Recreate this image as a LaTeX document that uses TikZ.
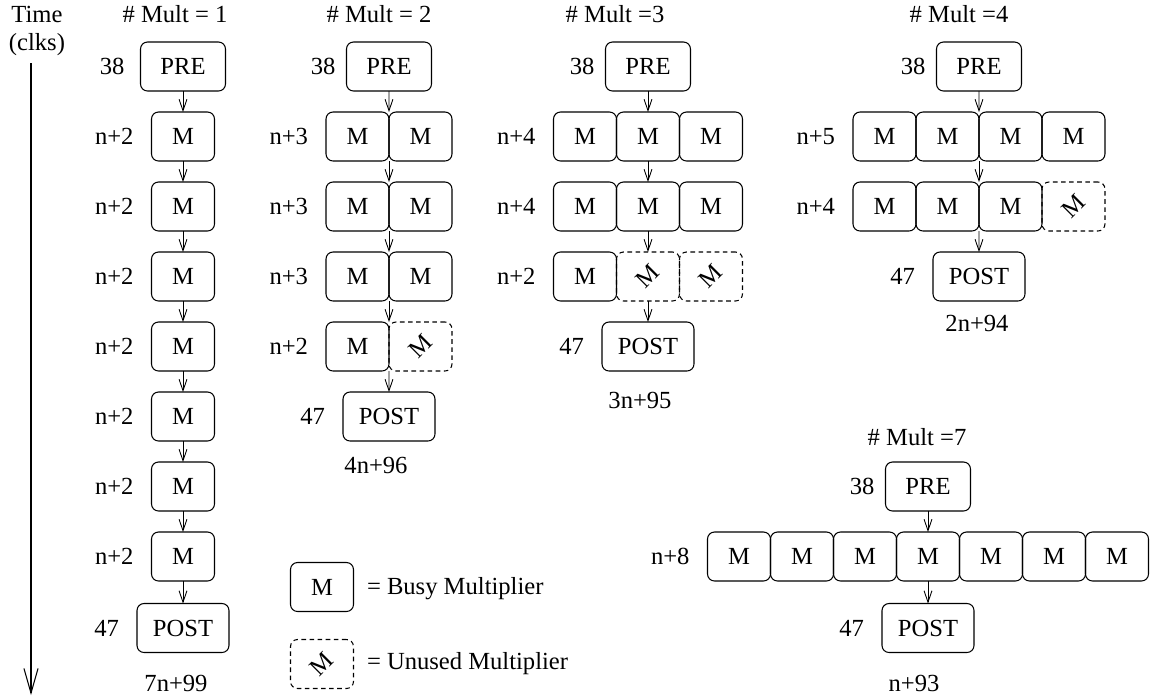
\documentclass[tikz,border=0pt]{standalone}
\usepackage{fontspec}
\setmainfont{Liberation Serif}
\usepackage{graphicx}
\usepackage{tikz}
\usetikzlibrary{arrows.meta, positioning}

\begin{document}
\begin{tikzpicture}[
    x=0.02cm, y=-0.02cm,
    every node/.style={font=\fontsize{14}{16}\selectfont},
    mul/.style={
        rectangle,
        rounded corners=4pt,
        minimum width=1.26cm,
        minimum height=0.98cm,
        inner sep=0pt, outer sep=0pt,
        line width=0.6pt,
        draw=black
    },
    idle/.style={mul, dash pattern=on 2.6pt off 2pt},
    prebox/.style={mul, minimum width=1.7cm},
    postbox/.style={mul, minimum width=1.84cm},
    lab/.style={inner sep=0pt, outer sep=0pt},
    arrow/.style={line width=0.5pt, -{Straight Barb[length=6.5pt,width=4.5pt]}},
    timearrow/.style={line width=0.6pt, -{Straight Barb[length=14pt,width=8pt]}}
]
\useasboundingbox (0,0) rectangle (1157,698);

% time axis
\node (time) at (37,14) {Time};
\node (clks) at (37,45) {(clks)};
\coordinate (t0) at (31,63);
\coordinate (t1) at (31,695);
\draw [timearrow] (t0) -- (t1);

% one multiplier
\node (h1) at (175,14) {\# Mult = 1};
\node (pre1) [prebox] at (183,66.5) {PRE};
\foreach \k in {1,...,7}
    \node (a\k) [mul] at (183,66.5+70*\k) {M};
\node (post1) [postbox] at (183,628) {POST};
\node [lab, left=0.32cm of pre1] {38};
\foreach \k in {1,...,7}
    \node [lab, left=0.36cm of a\k] {n+2};
\node [lab, left=0.36cm of post1] {47};
\node (s1) at (176,683) {7n+99};
\draw [arrow] (pre1) -- (a1);
\foreach \k/\j in {1/2,2/3,3/4,4/5,5/6,6/7}
    \draw [arrow] (a\k) -- (a\j);
\draw [arrow] (a7) -- (post1);

% two multipliers
\node (h2) at (379,14) {\# Mult = 2};
\node (pre2) [prebox] at (389,66.5) {PRE};
\foreach \k in {1,2,3} {
    \node (b\k a) [mul] at (357.5,66.5+70*\k) {M};
    \node (b\k b) [mul, right=0pt of b\k a] {M};
    \node [lab, left=0.36cm of b\k a] {n+3};
}
\node (b4a) [mul] at (357.5,346.5) {M};
\node (b4b) [idle, right=0pt of b4a] {\rotatebox{45}{M}};
\node [lab, left=0.36cm of b4a] {n+2};
\node (post2) [postbox] at (389,416.5) {POST};
\node [lab, left=0.22cm of pre2] {38};
\node [lab, left=0.36cm of post2] {47};
\node (s2) at (376,465) {4n+96};
\draw [arrow] (pre2) -- (b1a.north east);
\draw [arrow] (b1a.south east) -- (b2a.north east);
\draw [arrow] (b2a.south east) -- (b3a.north east);
\draw [arrow] (b3a.south east) -- (b4a.north east);
\draw [arrow] (b4a.south east) -- (post2);

% three multipliers
\node (h3) at (615,14) {\# Mult =3};
\node (pre3) [prebox] at (648,66.5) {PRE};
\foreach \k in {1,2} {
    \node (c\k b) [mul] at (648,66.5+70*\k) {M};
    \node (c\k a) [mul, left=0pt of c\k b] {M};
    \node (c\k c) [mul, right=0pt of c\k b] {M};
    \node [lab, left=0.36cm of c\k a] {n+4};
}
\node (c3b) [idle] at (648,276.5) {\rotatebox{45}{M}};
\node (c3a) [mul, left=0pt of c3b] {M};
\node (c3c) [idle, right=0pt of c3b] {\rotatebox{45}{M}};
\node [lab, left=0.36cm of c3a] {n+2};
\node (post3) [postbox] at (648,346.5) {POST};
\node [lab, left=0.22cm of pre3] {38};
\node [lab, left=0.36cm of post3] {47};
\node (s3) at (640,400) {3n+95};
\draw [arrow] (pre3) -- (c1b);
\draw [arrow] (c1b) -- (c2b);
\draw [arrow] (c2b) -- (c3b);
\draw [arrow] (c3b) -- (post3);

% four multipliers
\node (h4) at (959,14) {\# Mult =4};
\node (pre4) [prebox] at (979,66.5) {PRE};
\node (d1b) [mul] at (947.5,136.5) {M};
\node (d1a) [mul, left=0pt of d1b] {M};
\node (d1c) [mul, right=0pt of d1b] {M};
\node (d1d) [mul, right=0pt of d1c] {M};
\node [lab, left=0.36cm of d1a] {n+5};
\node (d2b) [mul] at (947.5,206.5) {M};
\node (d2a) [mul, left=0pt of d2b] {M};
\node (d2c) [mul, right=0pt of d2b] {M};
\node (d2d) [idle, right=0pt of d2c] {\rotatebox{45}{M}};
\node [lab, left=0.36cm of d2a] {n+4};
\node (post4) [postbox] at (979,276.5) {POST};
\node [lab, left=0.22cm of pre4] {38};
\node [lab, left=0.36cm of post4] {47};
\node (s4) at (977,323) {2n+94};
\draw [arrow] (pre4) -- (d1b.north east);
\draw [arrow] (d1b.south east) -- (d2b.north east);
\draw [arrow] (d2b.south east) -- (post4);

% seven multipliers
\node (h7) at (917,437) {\# Mult =7};
\node (pre7) [prebox] at (928,486.5) {PRE};
\foreach \i in {1,...,7}
    \node (g\i) [mul] at ({928+63*(\i-4)},556.5) {M};
\node [lab, left=0.36cm of g1] {n+8};
\node (post7) [postbox] at (928,628) {POST};
\node [lab, left=0.22cm of pre7] {38};
\node [lab, left=0.36cm of post7] {47};
\node (s7) at (914,683) {n+93};
\draw [arrow] (pre7) -- (g4);
\draw [arrow] (g4) -- (post7);

% legend
\node (busy) [mul] at (322,587) {M};
\node [lab, anchor=west] at (367,589) {= Busy Multiplier};
\node (unused) [idle] at (322,664) {\rotatebox{45}{M}};
\node [lab, anchor=west] at (367,664) {= Unused Multiplier};

\end{tikzpicture}
\end{document}
